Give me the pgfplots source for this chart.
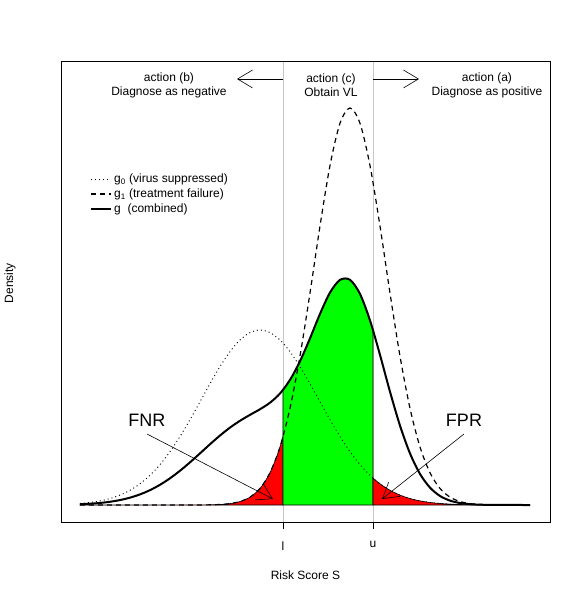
\documentclass[border=0pt]{standalone}
\usepackage{fontspec}
\setmainfont{Liberation Sans}
\usepackage{pgfplots}
\usepackage{pgfplotstable}
\pgfplotsset{compat=1.18}
\usepgfplotslibrary{fillbetween}
\usetikzlibrary{arrows.meta}

% x = risk score (arbitrary units), g0 / g1 / g = density heights
\pgfplotstableread{
x g0 g1 g
80 1.514 0 0.757
90 2.529 0 1.265
100 4.103 0 2.052
110 6.463 0 3.232
120 9.889 0 4.945
130 14.69 0 7.345
140 21.20 0 10.60
150 29.70 0 14.85
160 40.41 0 20.21
170 53.38 0.001 26.69
180 68.48 0.004 34.24
190 85.31 0.017 42.66
200 103.2 0.058 51.63
210 121.3 0.182 60.74
220 138.4 0.524 69.46
230 153.4 1.397 77.40
240 165.0 3.445 84.22
250 172.4 7.857 90.13
260 175.0 16.54 95.77
270 172.4 32.23 102.3
280 165.0 58.08 111.5
290 153.4 96.71 125.1
300 138.4 148.9 143.7
310 121.3 211.9 166.6
320 103.2 278.9 191.1
330 85.31 339.4 212.4
340 68.48 381.7 225.1
350 53.38 397.0 225.2
360 40.41 381.7 211.1
370 29.70 339.4 184.6
380 21.20 278.9 150.1
390 14.69 211.9 113.3
400 9.889 148.9 79.39
410 6.463 96.71 51.59
420 4.103 58.08 31.09
430 2.529 32.23 17.38
440 1.514 16.54 9.027
450 0.879 7.857 4.368
460 0.497 3.445 1.971
470 0.272 1.397 0.835
480 0.145 0.524 0.335
490 0.075 0.182 0.129
500 0.038 0.058 0.048
510 0.018 0.017 0.018
520 0.009 0.004 0.007
530 0.004 0.001 0.003
}\densities

\newcommand{\twelve}{\fontsize{12}{14}\selectfont}

\begin{document}
\begin{tikzpicture}
\begin{axis}[
    set layers,
    scale only axis,
    width=489pt, height=461pt,
    xmin=61, xmax=550, ymin=-17, ymax=444,
    clip=false,
    axis line style={line width=0.8pt},
    xtick={283,373}, xticklabels={l,u},
    ytick=\empty,
    xtick pos=bottom,
    tick align=outside,
    major tick length=7pt,
    tick style={black, line width=0.6pt},
    xmajorgrids,
    grid style={gray!45, line width=0.7pt},
    xticklabel style={font=\twelve, yshift=-9pt},
    xlabel={Risk Score S}, ylabel={Density},
    label style={font=\twelve},
    xlabel style={at={(axis description cs:0.5,-0.115)}, anchor=center},
    ylabel style={at={(axis description cs:-0.1043,0.518)}, anchor=center},
    legend style={at={(axis description cs:0.0593,0.7590)}, anchor=north west,
        draw=none, fill=none, font=\twelve, inner sep=0pt, row sep=0.5pt},
    legend cell align=left,
    legend image code/.code={\draw[#1] (0pt,0pt) -- (20pt,0pt);},
]
\addplot[name path=G0, smooth, black, line width=0.9pt, dash pattern=on 1pt off 3pt]
    table[x=x, y=g0] {\densities};
\addlegendentry{g\textsubscript{0} (virus suppressed)}
\addplot[name path=G1, smooth, black, line width=1.2pt, dash pattern=on 5pt off 4pt]
    table[x=x, y=g1] {\densities};
\addlegendentry{g\textsubscript{1} (treatment failure)}
\addplot[name path=G, smooth, black, line width=2pt]
    table[x=x, y=g] {\densities};
\addlegendentry{g\ \ (combined)}

\addplot[name path=B, draw=none, forget plot] coordinates {(80,0) (530,0)};
\addplot[fill=red, draw=black, line width=0.6pt, forget plot]
    fill between[of=G1 and B, soft clip={domain=80:283}];
\addplot[fill=green, draw=black, line width=0.6pt, forget plot]
    fill between[of=G and B, soft clip={domain=283:373}];
\addplot[fill=red, draw=black, line width=0.6pt, forget plot]
    fill between[of=G0 and B, soft clip={domain=373:530}];

% action labels
\node[align=center, font=\twelve] at (axis cs:169,420) {action (b)\\Diagnose as negative};
\node[align=center, font=\twelve] at (axis cs:331,420) {action (c)\\Obtain VL};
\node[align=center, font=\twelve] at (axis cs:487,420) {action (a)\\Diagnose as positive};
\draw[-{Straight Barb[length=15pt,width=18pt]}, line width=0.6pt] (axis cs:283,426) -- (axis cs:237,426);
\draw[-{Straight Barb[length=15pt,width=18pt]}, line width=0.6pt] (axis cs:373,426) -- (axis cs:419,426);

% error rate labels
\node[font=\fontsize{18}{20}\selectfont] at (axis cs:147,85) {FNR};
\node[font=\fontsize{18}{20}\selectfont] at (axis cs:464,85) {FPR};
\draw[-{Straight Barb[length=15pt,width=18pt]}, line width=0.6pt] (axis cs:147,71) -- (axis cs:273,6);
\draw[-{Straight Barb[length=15pt,width=18pt]}, line width=0.6pt] (axis cs:464,71) -- (axis cs:382,6);

\path (rel axis cs:-0.1247,-0.1670) rectangle (rel axis cs:1.0634,1.1323);
\end{axis}
\end{tikzpicture}
\end{document}
